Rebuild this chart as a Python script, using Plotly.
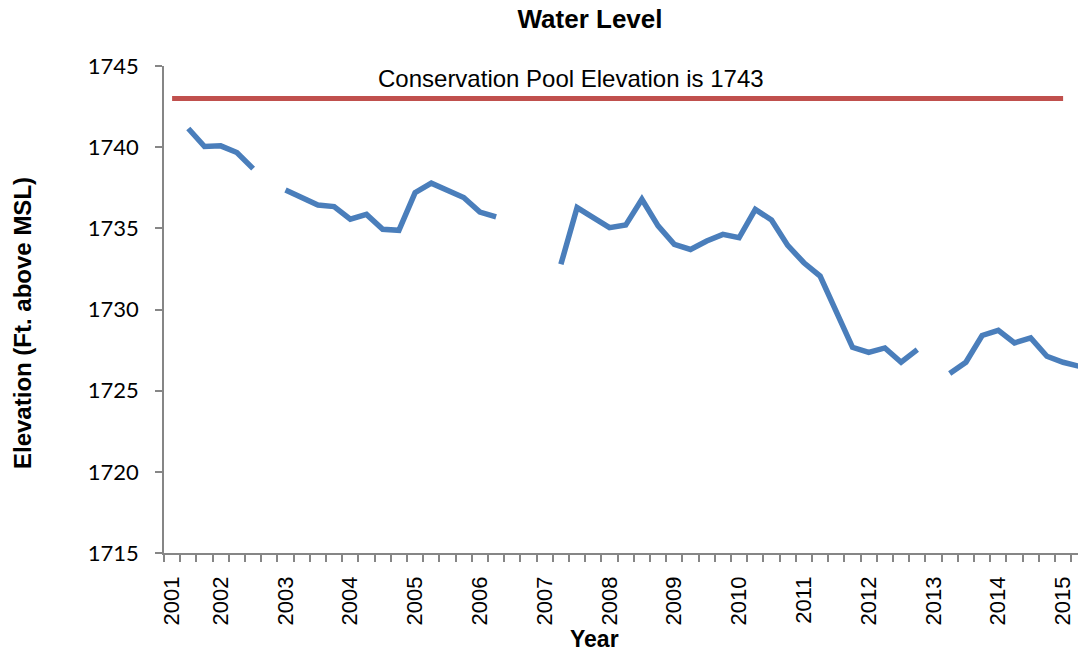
import plotly.graph_objects as go

# ---- data ----
quarter_index = list(range(57))
water_level = [
    None, 1741.15, 1740.04, 1740.08, 1739.67, 1738.68, None,
    1737.36, 1736.90, 1736.44, 1736.34, 1735.56, 1735.86, 1734.94, 1734.88,
    1737.20, 1737.78, 1737.36, 1736.90, 1736.00, 1735.70,
    None, None, None,
    1732.78, 1736.28, 1735.66, 1735.04, 1735.20, 1736.79, 1735.15, 1734.01,
    1733.70, 1734.22, 1734.63, 1734.42, 1736.17, 1735.51, 1733.95, 1732.88,
    1732.06, 1729.85, 1727.67, 1727.36, 1727.63, 1726.75, 1727.53,
    None,
    1726.05, 1726.75, 1728.40, 1728.72, 1727.94, 1728.25, 1727.12, 1726.75,
    1726.50,
]
pool_elevation = 1743
pool_index = list(range(56))
pool_level = [pool_elevation] * len(pool_index)

year_tick_index = [0, 3, 7, 11, 15, 19, 23, 27, 31, 35, 39, 43, 47, 51, 55]
year_labels = ["2001", "2002", "2003", "2004", "2005", "2006", "2007", "2008",
               "2009", "2010", "2011", "2012", "2013", "2014", "2015"]
y_ticks = [1715, 1720, 1725, 1730, 1735, 1740, 1745]

AXIS = "#868686"
ARIAL = "Liberation Sans, Arial, sans-serif"

fig = go.Figure()
fig.add_trace(go.Scatter(
    x=pool_index, y=pool_level, mode="lines",
    line=dict(color="#C0504D", width=5), connectgaps=False, hoverinfo="skip",
))
fig.add_trace(go.Scatter(
    x=quarter_index, y=water_level, mode="lines",
    line=dict(color="#4A7EBB", width=5.5, shape="linear"), connectgaps=False,
))

L, R, T, B = 164, 0, 66, 100
W, H = 1078, 653
pw = W - L - R
ph = H - T - B
x0 = -0.5
x1 = x0 + pw / 16.2

fig.update_layout(
    width=W, height=H,
    margin=dict(l=L, r=R, t=T, b=B, pad=0),
    paper_bgcolor="white", plot_bgcolor="white",
    showlegend=False,
    title=dict(text="<b>Water Level</b>", x=590 / W, xanchor="center",
               y=1 - 19 / H, yanchor="middle", xref="container", yref="container",
               font=dict(family=ARIAL, size=26, color="black")),
    xaxis=dict(
        range=[x0, x1], showgrid=False, zeroline=False,
        showline=True, linecolor=AXIS, linewidth=1.5,
        tickmode="array", tickvals=year_tick_index, ticktext=year_labels,
        ticks="outside", ticklen=7, tickcolor="rgba(0,0,0,0)",
        tickangle=-90, ticklabelstandoff=6,
        tickfont=dict(family=ARIAL, size=22, color="black"),
        minor=dict(tickmode="linear", tick0=-0.5, dtick=1, ticks="outside",
                   ticklen=7, tickcolor=AXIS, tickwidth=1.5, showgrid=False),
    ),
    yaxis=dict(
        range=[1715, 1745], showgrid=False, zeroline=False,
        showline=True, linecolor=AXIS, linewidth=1.5,
        tickmode="array", tickvals=y_ticks,
        ticks="outside", ticklen=7, tickcolor=AXIS, tickwidth=1.5,
        ticklabelstandoff=12,
        tickfont=dict(family="Lato, sans-serif", size=22, color="black"),
    ),
    annotations=[
        dict(text="Conservation Pool Elevation is 1743", xref="paper", yref="paper",
             x=(570.5 - L) / pw, y=1 - (78 - T) / ph,
             xanchor="center", yanchor="middle", showarrow=False,
             font=dict(family=ARIAL, size=24, color="black")),
        dict(text="<b>Elevation (Ft. above MSL)</b>", xref="paper", yref="paper",
             x=(22 - L) / pw, y=1 - (323 - T) / ph, textangle=-90,
             xanchor="center", yanchor="middle", showarrow=False,
             font=dict(family=ARIAL, size=24, color="black")),
        dict(text="<b>Year</b>", xref="paper", yref="paper",
             x=(594 - L) / pw, y=1 - (639 - T) / ph,
             xanchor="center", yanchor="middle", showarrow=False,
             font=dict(family=ARIAL, size=23, color="black")),
    ],
)

fig.write_html("out.html", config={"displayModeBar": False})

# remove the default page margin so the figure fills the window exactly
with open("out.html", encoding="utf-8") as f:
    html = f.read()
html = html.replace("<head>", "<head><style>html,body{margin:0;padding:0;overflow:hidden;}</style>", 1)
with open("out.html", "w", encoding="utf-8") as f:
    f.write(html)
